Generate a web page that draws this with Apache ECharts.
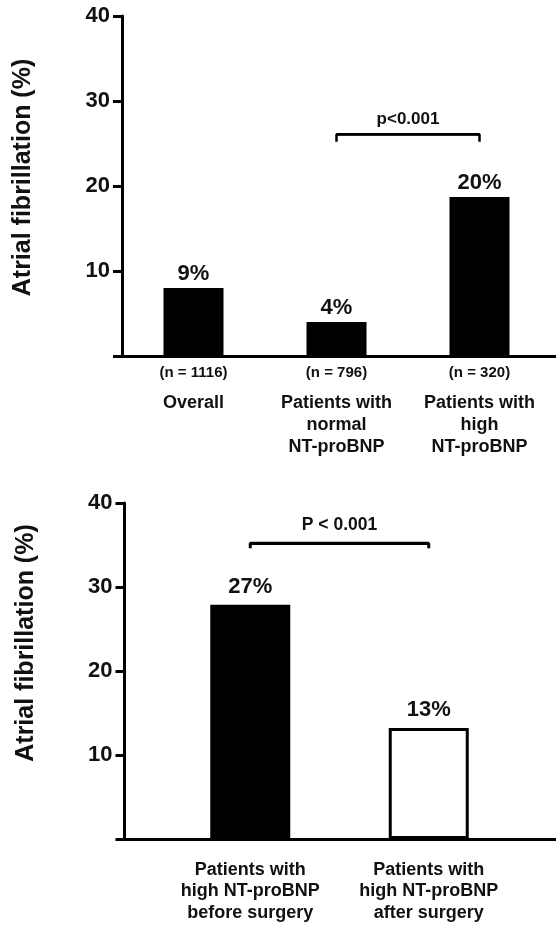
<!DOCTYPE html>
<html>
<head>
<meta charset="utf-8">
<script src="https://cdn.jsdelivr.net/npm/echarts@6/dist/echarts.min.js"></script>
<style>
html,body{margin:0;padding:0;background:#fff;}
#chart{width:556px;height:927px;}
</style>
</head>
<body>
<div id="chart"></div>
<script>
// ---- data ----
const yTicks = [0, 10, 20, 30, 40];
const topCategories = ['Overall', 'Patients with\nnormal\nNT-proBNP', 'Patients with\nhigh\nNT-proBNP'];
const topN = ['(n = 1116)', '(n = 796)', '(n = 320)'];
const topValues = [8.0, 4.0, 18.7];
const topLabels = ['9%', '4%', '20%'];
const topP = 'p<0.001';
const topBracket = [25.2, 26.1];

const botCategories = ['Patients with\nhigh NT-proBNP\nbefore surgery', 'Patients with\nhigh NT-proBNP\nafter surgery'];
const botValues = [27.9, 13.2];
const botLabels = ['27%', '13%'];
const botFill = ['#000', '#fff'];
const botP = 'P < 0.001';
const botBracket = [34.6, 35.2];

// ---- styles ----
const FONT = '"Liberation Sans", Arial, sans-serif';
const INK = '#111';

function yAxisCfg(gridIndex, offset, namePad) {
  return {
    type: 'value', gridIndex, min: yTicks[0], max: yTicks[yTicks.length - 1], interval: 10,
    offset,
    name: 'Atrial fibrillation (%)', nameLocation: 'middle', nameGap: 86, nameRotate: 90,
    nameTextStyle: { fontFamily: FONT, fontWeight: 'bold', fontSize: 25, color: INK, padding: [0, 0, 0, namePad] },
    axisLine: { show: true, lineStyle: { color: '#000', width: 3 } },
    axisTick: { show: true, length: 9, lineStyle: { color: '#000', width: 3 } },
    axisLabel: { margin: 12, fontFamily: FONT, fontWeight: 'bold', fontSize: 22, color: INK,
      formatter: v => (v === 0 ? '' : String(v)) },
    splitLine: { show: false }
  };
}
function lineAxisX(gridIndex) {
  return { type: 'value', gridIndex, min: 0, max: 1, position: 'bottom',
    axisLine: { show: true, lineStyle: { color: '#000', width: 3 } },
    axisTick: { show: false }, axisLabel: { show: false }, splitLine: { show: false } };
}
function hiddenY(gridIndex) {
  return { type: 'value', gridIndex, show: false, min: 0, max: 40 };
}

const option = {
  animation: false,
  backgroundColor: '#fff',
  grid: [
    { left: 122, right: 5, top: 16, height: 340 },
    { left: 122, right: 0, top: 16, height: 340 },
    { left: 161, width: 357, top: 503, height: 336 },
    { left: 124.5, right: 0, top: 503, height: 336 }
  ],
  xAxis: [
    { type: 'category', gridIndex: 0, data: topCategories,
      axisLine: { show: false }, axisTick: { show: false },
      axisLabel: { margin: -2, interval: 0,
        formatter: (v, i) => '{n|' + topN[i] + '}\n' + v.split('\n').map(s => '{c|' + s + '}').join('\n'),
        rich: {
          n: { fontFamily: FONT, fontWeight: 'bold', fontSize: 15, lineHeight: 38, color: INK },
          c: { fontFamily: FONT, fontWeight: 'bold', fontSize: 18, lineHeight: 22, color: INK }
        } } },
    lineAxisX(1),
    { type: 'category', gridIndex: 2, data: botCategories,
      axisLine: { show: false }, axisTick: { show: false },
      axisLabel: { margin: 20, interval: 0, fontFamily: FONT, fontWeight: 'bold', fontSize: 18, lineHeight: 21.5, color: INK } },
    lineAxisX(3)
  ],
  yAxis: [
    yAxisCfg(0, 0, 17),
    hiddenY(1),
    yAxisCfg(2, 36.5, 56),
    hiddenY(3)
  ],
  series: [
    { type: 'bar', xAxisIndex: 0, yAxisIndex: 0, barWidth: 60,
      data: topValues.map((v, i) => ({ value: v, label: { formatter: topLabels[i] } })),
      itemStyle: { color: '#000' },
      label: { show: true, position: 'top', distance: 3, fontFamily: FONT, fontWeight: 'bold', fontSize: 22, color: INK } },
    { type: 'line', xAxisIndex: 0, yAxisIndex: 0, symbol: 'none', silent: true,
      lineStyle: { color: '#000', width: 2.5 },
      data: [[topCategories[1], topBracket[0]], [topCategories[1], topBracket[1]], [topCategories[2], topBracket[1]], [topCategories[2], topBracket[0]]],
      markLine: { silent: true, symbol: ['none', 'none'], lineStyle: { color: '#000', width: 2.5, type: 'solid' },
        label: { show: true, position: 'middle', distance: 6, formatter: topP, fontFamily: FONT, fontWeight: 'bold', fontSize: 17, color: INK },
        data: [[{ coord: [topCategories[1], topBracket[1]] }, { coord: [topCategories[2], topBracket[1]] }]] } },
    { type: 'bar', xAxisIndex: 2, yAxisIndex: 2, barWidth: 80,
      data: botValues.map((v, i) => ({ value: v,
        itemStyle: { color: botFill[i], borderColor: '#000', borderWidth: botFill[i] === '#fff' ? 3 : 0 },
        label: { formatter: botLabels[i] } })),
      label: { show: true, position: 'top', distance: 7, fontFamily: FONT, fontWeight: 'bold', fontSize: 22, color: INK } },
    { type: 'line', xAxisIndex: 2, yAxisIndex: 2, symbol: 'none', silent: true,
      lineStyle: { color: '#000', width: 3 },
      data: [[botCategories[0], botBracket[0]], [botCategories[0], botBracket[1]], [botCategories[1], botBracket[1]], [botCategories[1], botBracket[0]]],
      markLine: { silent: true, symbol: ['none', 'none'], lineStyle: { color: '#000', width: 3, type: 'solid' },
        label: { show: true, position: 'middle', distance: 9, formatter: botP, fontFamily: FONT, fontWeight: 'bold', fontSize: 17.5, color: INK },
        data: [[{ coord: [botCategories[0], botBracket[1]] }, { coord: [botCategories[1], botBracket[1]] }]] } }
  ]
};

const chart = echarts.init(document.getElementById('chart'), null, { renderer: 'canvas' });
chart.setOption(option);
</script>
</body>
</html>
